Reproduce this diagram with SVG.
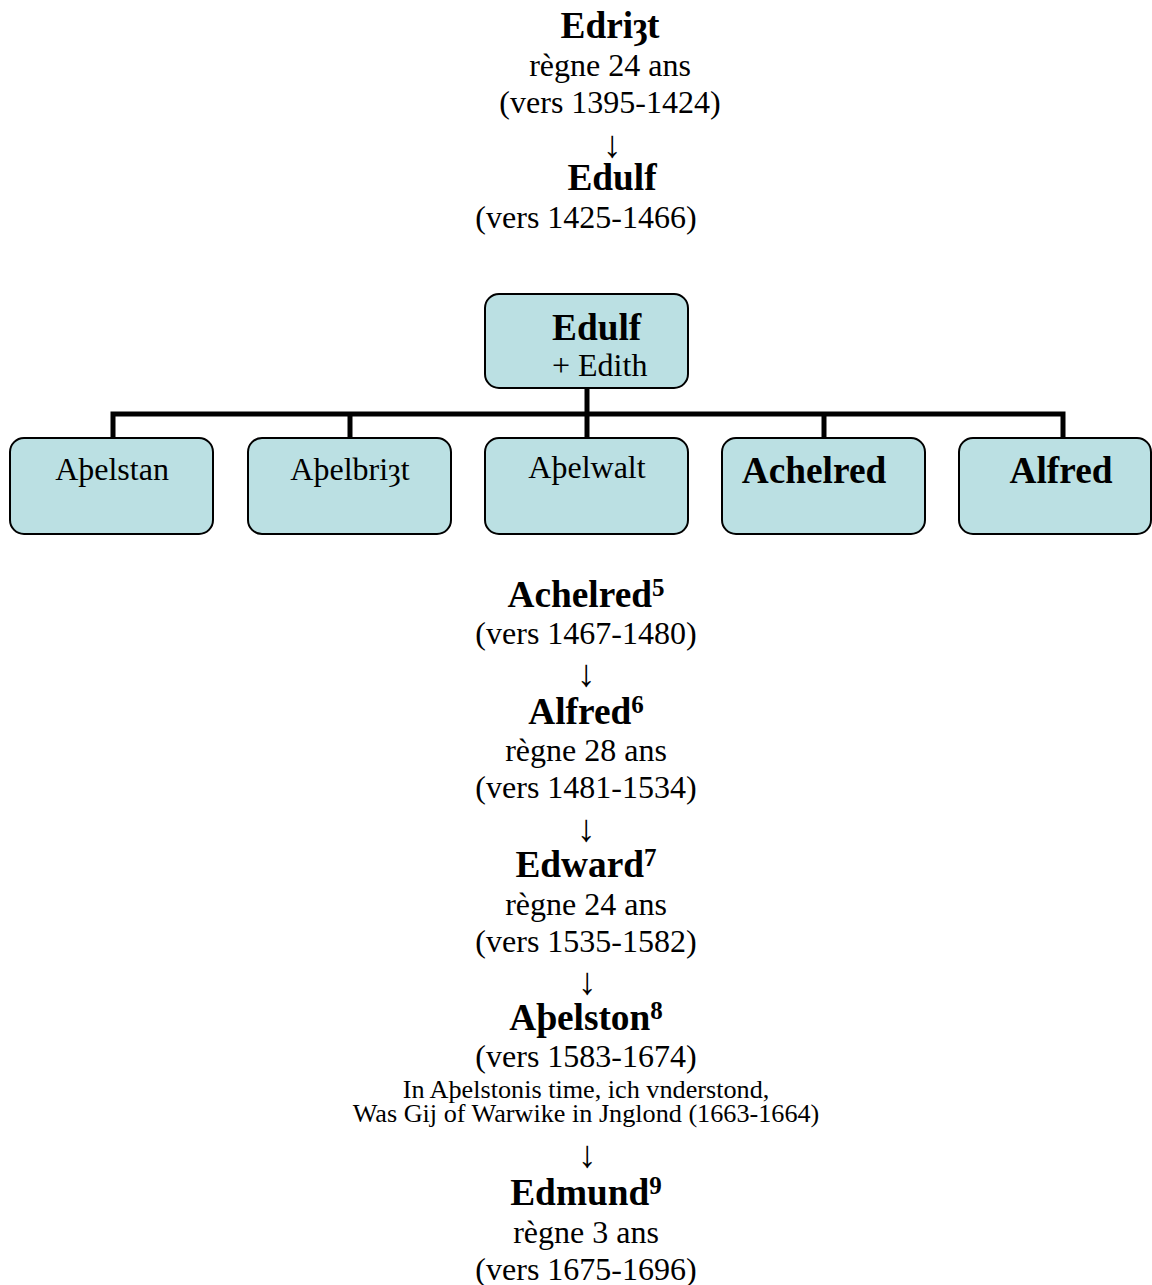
<svg xmlns="http://www.w3.org/2000/svg" width="1152" height="1285" viewBox="0 0 1152 1285">
<style>
text{font-family:"Liberation Serif","Times New Roman","DejaVu Serif",serif;fill:#000}
.r{font-size:32px}
.b{font-size:37.33px;font-weight:bold}
.s{font-size:26.2px}
.sup{font-size:25px;font-weight:bold}
.m{text-anchor:middle}
.ar{font-size:38px}
.box{fill:#bbe0e3;stroke:#000;stroke-width:2}
.con{fill:none;stroke:#000;stroke-width:5}
</style>
<rect width="1152" height="1285" fill="#fff"/>
<g id="top-lineage">
<text class="b m" x="610" y="38">Edriȝt</text>
<text class="r m" x="610" y="76">règne 24 ans</text>
<text class="r m" x="610" y="113">(vers 1395-1424)</text>
<text class="ar m" x="612" y="157">↓</text>
<text class="b m" x="612" y="190">Edulf</text>
<text class="r m" x="586" y="228">(vers 1425-1466)</text>
</g>
<g id="connectors">
<path class="con" d="M587 388 V437"/>
<path class="con" d="M113 437 V414 H1063 V437"/>
<path class="con" d="M350 414 V437"/>
<path class="con" d="M824 414 V437"/>
</g>
<g id="node-edulf">
<rect class="box" x="485" y="294" width="203" height="94" rx="14"/>
<text class="b" x="552" y="340">Edulf</text>
<text class="r" x="552" y="376">+ Edith</text>
</g>
<g id="node-athelstan">
<rect class="box" x="10" y="438" width="203" height="96" rx="14"/>
<text class="r m" x="112" y="480">Aþelstan</text>
</g>
<g id="node-athelbrigt">
<rect class="box" x="248" y="438" width="203" height="96" rx="14"/>
<text class="r m" x="350" y="480">Aþelbriȝt</text>
</g>
<g id="node-athelwalt">
<rect class="box" x="485" y="438" width="203" height="96" rx="14"/>
<text class="r m" x="587" y="478">Aþelwalt</text>
</g>
<g id="node-achelred">
<rect class="box" x="722" y="438" width="203" height="96" rx="14"/>
<text class="b m" x="814" y="483">Achelred</text>
</g>
<g id="node-alfred">
<rect class="box" x="959" y="438" width="192" height="96" rx="14"/>
<text class="b m" x="1061" y="483">Alfred</text>
</g>
<g id="lower-lineage">
<text class="b m" x="586" y="607">Achelred<tspan class="sup" dy="-11">5</tspan></text>
<text class="r m" x="586" y="644">(vers 1467-1480)</text>
<text class="ar m" x="586" y="686">↓</text>
<text class="b m" x="586" y="724">Alfred<tspan class="sup" dy="-11">6</tspan></text>
<text class="r m" x="586" y="761">règne 28 ans</text>
<text class="r m" x="586" y="798">(vers 1481-1534)</text>
<text class="ar m" x="586" y="841">↓</text>
<text class="b m" x="586" y="877">Edward<tspan class="sup" dy="-11">7</tspan></text>
<text class="r m" x="586" y="915">règne 24 ans</text>
<text class="r m" x="586" y="952">(vers 1535-1582)</text>
<text class="ar m" x="587" y="994">↓</text>
<text class="b m" x="586" y="1030">Aþelston<tspan class="sup" dy="-11">8</tspan></text>
<text class="r m" x="586" y="1067">(vers 1583-1674)</text>
<text class="s m" x="586" y="1098">In Aþelstonis time, ich vnderstond,</text>
<text class="s m" x="586" y="1122">Was Gij of Warwike in Jnglond (1663-1664)</text>
<text class="ar m" x="587" y="1167">↓</text>
<text class="b m" x="586" y="1205">Edmund<tspan class="sup" dy="-11">9</tspan></text>
<text class="r m" x="586" y="1243">règne 3 ans</text>
<text class="r m" x="586" y="1280">(vers 1675-1696)</text>
</g>
</svg>
